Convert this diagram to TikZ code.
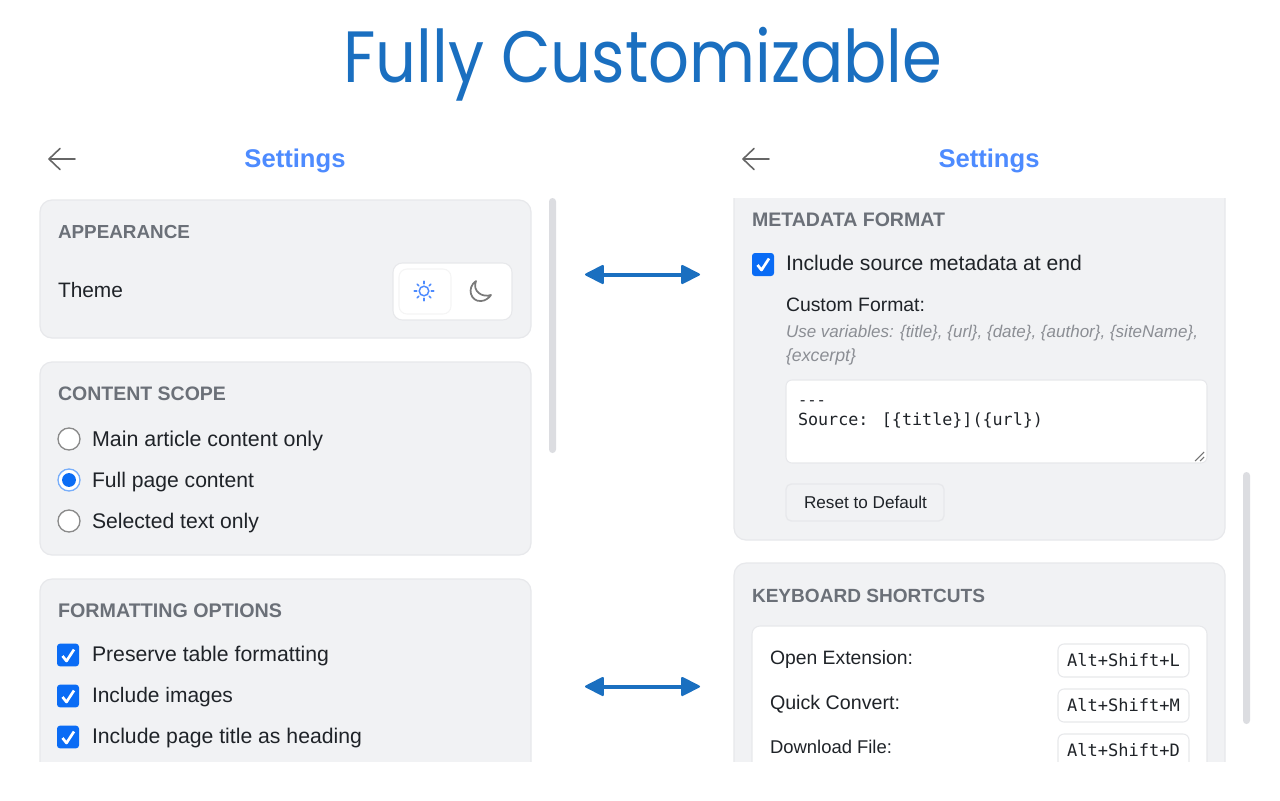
\documentclass[tikz,border=0pt]{standalone}
\usepackage{fontspec}
\setmainfont{Liberation Sans}
\newfontfamily\titlefont{Poppins}
\newfontfamily\codefont{DejaVu Sans Mono}
\usetikzlibrary{arrows.meta}
\definecolor{titleblue}{HTML}{1A6FC0}
\definecolor{setblue}{HTML}{4D8BFF}
\definecolor{panelfill}{HTML}{F1F2F4}
\definecolor{panelline}{HTML}{E7E8EB}
\definecolor{headgray}{HTML}{6B7078}
\definecolor{inkdark}{HTML}{1F2328}
\definecolor{hintgray}{HTML}{8B8E94}
\definecolor{barfill}{HTML}{DCDDE1}
\definecolor{tickblue}{HTML}{0A6CF5}
\definecolor{ringgray}{HTML}{8A8A8A}
\newdimen\fitdimw
\newdimen\fitdimh
\newcommand{\fitw}[2]{\fitdimw=#1pt \fitdimw=0.75\fitdimw \resizebox{\fitdimw}{!}{#2}}
\newcommand{\fitwh}[3]{\fitdimw=#1pt \fitdimw=0.75\fitdimw \fitdimh=#2pt \fitdimh=0.75\fitdimh \resizebox*{\fitdimw}{\fitdimh}{#3}}
\tikzset{
  x=0.75pt,y=-0.75pt,
  lbl/.style={inner sep=0pt,outer sep=0pt,anchor=base west,text=inkdark},
  heading/.style={lbl,text=headgray,font=\bfseries},
  settingstitle/.style={inner sep=0pt,anchor=base,text=setblue,font=\bfseries},
  hint/.style={lbl,text=hintgray,font=\itshape},
  codetext/.style={lbl,font=\codefont},
  panel/.style={fill=panelfill,draw=panelline,line width=0.9pt,rounded corners=9pt},
  whitebox/.style={fill=white,draw=panelline,line width=0.8pt,rounded corners=4.5pt},
  scrollbar/.style={fill=barfill,rounded corners=2.6pt},
  backarrow/.style={draw=black!60,line width=1.2pt,line cap=round,line join=round},
  radiooff/.style={circle,fill=white,draw=ringgray,line width=1pt,minimum size=16.5pt,inner sep=0pt},
  radioon/.style={circle,fill=white,draw=tickblue!55,line width=1pt,minimum size=16.5pt,inner sep=0pt},
  tickbox/.style={fill=tickblue,rounded corners=2.2pt},
  tickmark/.style={draw=white,line width=2pt,line join=round},
  linkarrow/.style={draw=titleblue,line width=3pt,{Triangle[length=15pt,width=15pt,line width=1.5pt,round]}-{Triangle[length=15pt,width=15pt,line width=1.5pt,round]}},
}
\begin{document}
\begin{tikzpicture}
\useasboundingbox (0,0) rectangle (1280,800);
\fill[white] (0,0) rectangle (1280,800);
% title
\node[inner sep=0pt,anchor=base west,text=titleblue,font=\titlefont] (title) at (343,82) {\fitwh{599}{74}{Fully Customizable}};
% headers
\node[settingstitle] (setL) at (295,167) {\fitw{101}{Settings}};
\node[settingstitle] (setR) at (989,167) {\fitw{101}{Settings}};
\draw[backarrow] (49,159) -- (75,159) (60,148.5) -- (49,159) -- (60,169.5);
\draw[backarrow] (743,159) -- (769,159) (754,148.5) -- (743,159) -- (754,169.5);
% scrollbars
\fill[scrollbar] (549,198) rectangle (556,453);
\fill[scrollbar] (1243,472) rectangle (1250,724);
\begin{scope}
\clip (0,198) rectangle (1280,761);
% left panels
\draw[panel] (40,200) rectangle (531,338);
\draw[panel] (40,362) rectangle (531,555);
\draw[panel] (40,579) rectangle (531,800);
% right panels
\draw[panel] (734,170) rectangle (1225,540);
\draw[panel] (734,563) rectangle (1225,800);
\draw[whitebox,rounded corners=6pt] (752,626) rectangle (1207,800);
% key boxes
\draw[whitebox] (1058,644) rectangle (1189,677);
\draw[whitebox] (1058,689) rectangle (1189,722);
\draw[whitebox] (1058,734) rectangle (1189,790);
\node[codetext] (k1) at (1067,666) {\fitw{113}{Alt+Shift+L}};
\node[codetext] (k2) at (1067,711) {\fitw{113}{Alt+Shift+M}};
\node[codetext] (k3) at (1067,756) {\fitw{113}{Alt+Shift+D}};
\node[lbl] (o1) at (770,664) {\fitw{143}{Open Extension:}};
\node[lbl] (o2) at (770,709) {\fitw{130}{Quick Convert:}};
\node[lbl] (o3) at (770,753) {\fitw{122}{Download File:}};
\end{scope}
% keyboard heading
\node[heading] (hKey) at (752,602) {\fitw{233}{KEYBOARD SHORTCUTS}};
% appearance
\node[heading] (hApp) at (58,238) {\fitw{132}{APPEARANCE}};
\node[lbl] (theme) at (58,297) {\fitw{65}{Theme}};
\draw[whitebox,rounded corners=7pt] (393,263) rectangle (512,320);
\draw[fill=white,draw=black!4,line width=0.8pt,rounded corners=6pt] (399,269) rectangle (451,314);
% sun
\begin{scope}[shift={(424,291)}]
\draw[setblue,line width=1.1pt] (0,0) circle[radius=3.6pt];
\foreach \a in {0,45,...,315}{\draw[setblue,line width=1.1pt,line cap=round] (\a:7.2) -- (\a:9.8);}
\end{scope}
% moon
\draw[black!52,line width=1.3pt,line join=round] (476,281) .. controls (466,288) and (471,302) .. (481,301) .. controls (485,301) and (489,298) .. (491,295) .. controls (482,298) and (472,291) .. (476,281) -- cycle;
% content scope
\node[heading] (hCon) at (58,400) {\fitw{168}{CONTENT SCOPE}};
\node[radiooff] (r1) at (69,439) {};
\node[radioon] (r2) at (69,480) {};
\fill[tickblue] (r2.center) circle[radius=5.2pt];
\node[radiooff] (r3) at (69,521) {};
\node[lbl] (t1) at (92,446) {\fitw{231}{Main article content only}};
\node[lbl] (t2) at (92,487) {\fitw{162}{Full page content}};
\node[lbl] (t3) at (92,528) {\fitw{167}{Selected text only}};
% formatting
\node[heading] (hFor) at (58,617) {\fitw{224}{FORMATTING OPTIONS}};
\foreach \cy in {655,696,737}{
  \fill[tickbox] (57,\cy-11.3) rectangle (79,\cy+11.3);
  \draw[tickmark] (62.5,\cy+1) -- (66.5,\cy+6) -- (74,\cy-5.5);
}
\node[lbl] (f1) at (92,661) {\fitw{237}{Preserve table formatting}};
\node[lbl] (f2) at (92,702) {\fitw{141}{Include images}};
\node[lbl] (f3) at (92,743) {\fitw{270}{Include page title as heading}};
% metadata
\node[heading] (hMet) at (752,226) {\fitw{193}{METADATA FORMAT}};
\fill[tickbox] (752,253) rectangle (774,276);
\draw[tickmark] (757.5,265) -- (761.5,270) -- (769,258.5);
\node[lbl] (m1) at (786,270) {\fitw{296}{Include source metadata at end}};
\node[lbl] (m2) at (786,311) {\fitw{139}{Custom Format:}};
\node[hint] (m3) at (786,337) {\fitw{412}{Use variables: \{title\}, \{url\}, \{date\}, \{author\}, \{siteName\},}};
\node[hint] (m4) at (786,361) {\fitw{70}{\{excerpt\}}};
\draw[whitebox] (786,380) rectangle (1207,463);
\node[codetext] (c1) at (798,405) {\fitw{28}{-{}-{}-}};
\node[codetext] (c2) at (798,425) {\fitw{245}{Source: [\{title\}](\{url\})}};
\draw[black!55,line width=0.8pt] (1195,461) -- (1204,452) (1200,461) -- (1204,457);
\draw[fill=panelfill,draw=panelline,line width=1pt,rounded corners=4pt] (786,484) rectangle (944,521);
\node[lbl] (reset) at (804,508) {\fitw{123}{Reset to Default}};
% link arrows
\coordinate (aL1) at (585,274.5);
\coordinate (aR1) at (700,274.5);
\coordinate (aL2) at (585,686.5);
\coordinate (aR2) at (700,686.5);
\draw[linkarrow] (aL1) -- (aR1);
\draw[linkarrow] (aL2) -- (aR2);
\end{tikzpicture}
\end{document}
